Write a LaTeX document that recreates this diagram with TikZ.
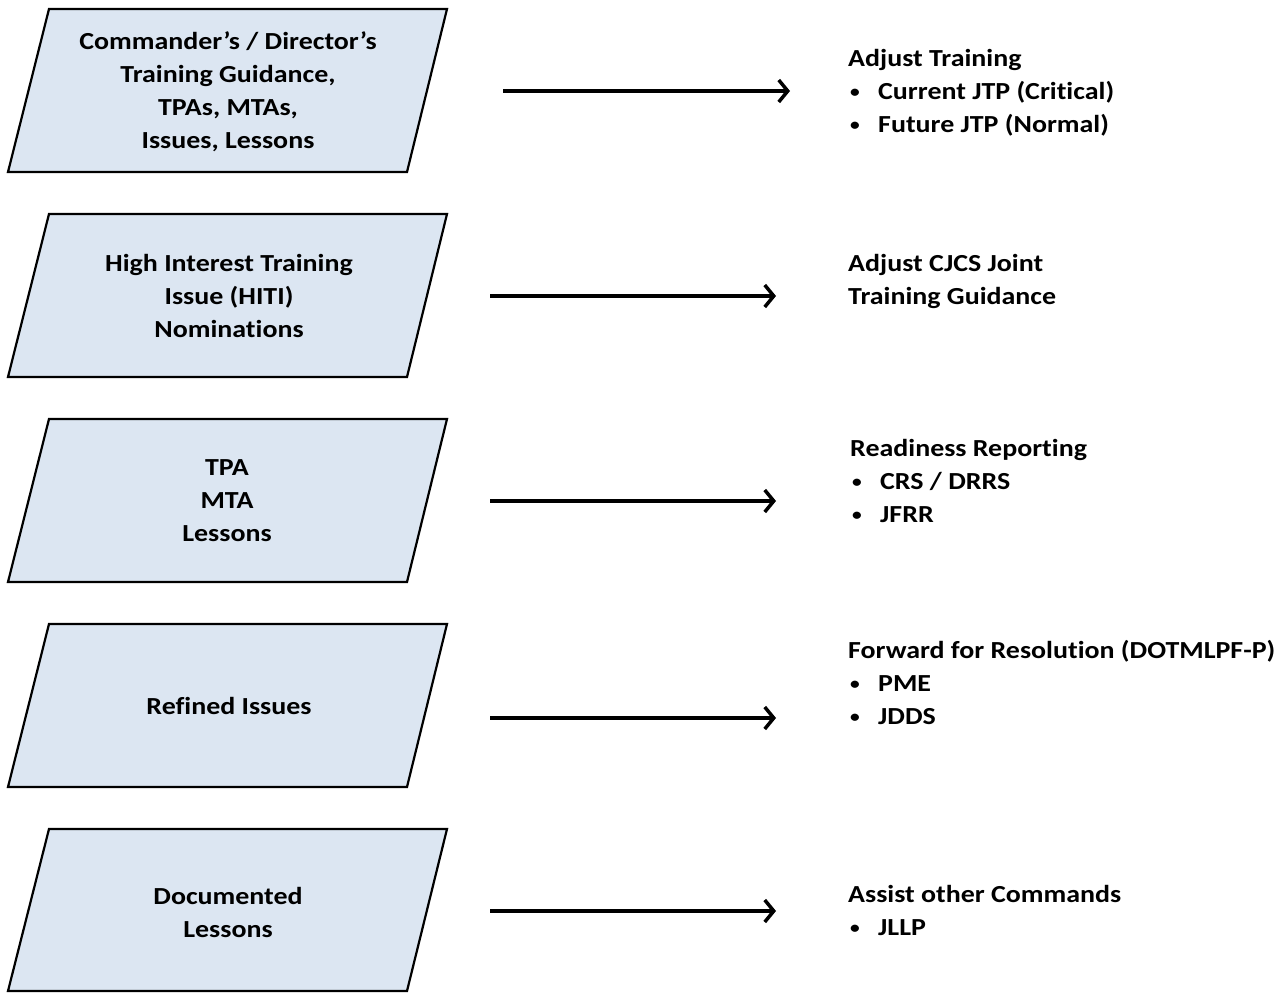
\documentclass[tikz,border=0pt]{standalone}
\usepackage{fontspec}
\setmainfont{Carlito}[FakeStretch=1.14,Ligatures={NoCommon}]
\usetikzlibrary{arrows.meta}
\definecolor{boxfill}{HTML}{DCE6F2}
\newcommand{\bul}{\makebox[30pt][l]{\hspace{2pt}\raisebox{2pt}{\fontsize{17}{17}\selectfont•}}}
\tikzset{
  parabox/.style={draw=black, fill=boxfill, line width=2.2pt, line join=miter},
  boxtext/.style={align=center, font=\fontsize{24.5}{33}\selectfont\bfseries, inner sep=0pt},
  outtext/.style={align=left, anchor=north west, font=\fontsize{24.5}{33}\selectfont\bfseries, inner sep=0pt},
  flow/.style={line width=3.5pt, -{Straight Barb[length=9pt,width=22pt]}}
}
\begin{document}
\begin{tikzpicture}[x=1pt,y=-1pt]
\useasboundingbox (0,0) rectangle (1287,993);
% parallelograms
\filldraw[parabox] (49,9) -- (447,9) -- (407,172) -- (8,172) -- cycle;
\filldraw[parabox] (49,214) -- (447,214) -- (407,377) -- (8,377) -- cycle;
\filldraw[parabox] (49,419) -- (447,419) -- (407,582) -- (8,582) -- cycle;
\filldraw[parabox] (49,624) -- (447,624) -- (407,787) -- (8,787) -- cycle;
\filldraw[parabox] (49,829) -- (447,829) -- (407,991) -- (8,991) -- cycle;
% box texts
\node[boxtext] (b1) at (228,92) {Commander’s / Director’s\\Training Guidance,\\TPAs, MTAs,\\Issues,\ Lessons};
\node[boxtext] (b2) at (229,296) {High Interest Training\\Issue (HITI)\\Nominations};
\node[boxtext] (b3) at (227,501) {TPA\\MTA\\Lessons};
\node[boxtext] (b4) at (229,706) {Refined Issues};
\node[boxtext] (b5) at (228,912) {Documented\\Lessons};
% output texts
\node[outtext] (o1) at (848,43) {\strut Adjust Training\\\bul Current JTP (Critical)\\\bul Future JTP (Normal)};
\node[outtext] (o2) at (848,248) {\strut Adjust CJCS Joint\\Training Guidance};
\node[outtext] (o3) at (850,433) {\strut Readiness Reporting\\\bul CRS / DRRS\\\bul JFRR};
\node[outtext] (o4) at (848,635) {\strut Forward for Resolution (DOTMLPF-P)\\\bul PME\\\bul JDDS};
\node[outtext] (o5) at (848,879) {\strut Assist other Commands\\\bul JLLP};
% arrows
\coordinate (s1) at (503,91);  \coordinate (e1) at (790,91);
\coordinate (s2) at (490,296); \coordinate (e2) at (776,296);
\coordinate (s3) at (490,501); \coordinate (e3) at (776,501);
\coordinate (s4) at (490,718); \coordinate (e4) at (776,718);
\coordinate (s5) at (490,911); \coordinate (e5) at (776,911);
\draw[flow] (s1) -- (e1);
\draw[flow] (s2) -- (e2);
\draw[flow] (s3) -- (e3);
\draw[flow] (s4) -- (e4);
\draw[flow] (s5) -- (e5);
\end{tikzpicture}
\end{document}
